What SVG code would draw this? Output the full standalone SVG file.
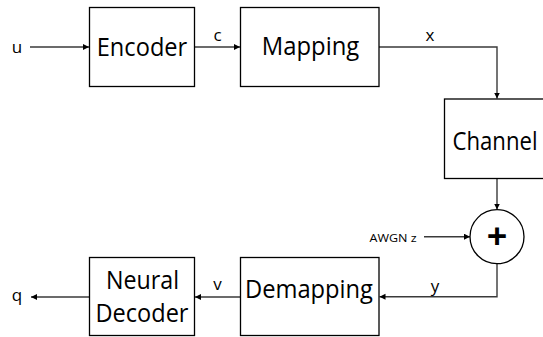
<svg xmlns="http://www.w3.org/2000/svg" width="543" height="337" viewBox="0 0 543 337">
<style>
.box{fill:#fff;stroke:#000;stroke-width:1.3}
.big{font-family:"Open Sans","Liberation Sans",sans-serif;font-size:25px;fill:#000;text-anchor:middle}
.lbl{font-family:"Open Sans","Liberation Sans",sans-serif;font-size:17px;fill:#000;text-anchor:middle}
.sm{font-family:"Open Sans","Liberation Sans",sans-serif;font-size:11.5px;fill:#000}
.conn path{fill:none;stroke:#3a3a3a;stroke-width:1.4}
</style>
<defs>
<marker id="ah" markerUnits="userSpaceOnUse" markerWidth="7" markerHeight="7" refX="6" refY="3" orient="auto">
<path d="M0,0 L6,3 L0,6 z" fill="#000"/>
</marker>
</defs>
<rect width="543" height="337" fill="#fff"/>
<g class="conn">
<path d="M30,47 H89" marker-end="url(#ah)"/>
<path d="M194.5,47 H240" marker-end="url(#ah)"/>
<path d="M379,47 H497 V98.5" marker-end="url(#ah)"/>
<path d="M497,178.5 V209.5" marker-end="url(#ah)"/>
<path d="M424,236.7 H470" marker-end="url(#ah)"/>
<path d="M497,263.7 V296.7 H379.5" marker-end="url(#ah)"/>
<path d="M240.5,297 H195" marker-end="url(#ah)"/>
<path d="M89.5,297 H31" marker-end="url(#ah)"/>
</g>
<g id="labels">
<text class="lbl" x="17" y="53">u</text>
<text class="lbl" x="217.5" y="40.5">c</text>
<text class="lbl" x="430" y="40.5">x</text>
<text class="lbl" x="435" y="292">y</text>
<text class="lbl" x="217.5" y="290">v</text>
<text class="lbl" x="17" y="301">q</text>
<text class="sm" x="369.5" y="241.5" textLength="47" lengthAdjust="spacingAndGlyphs">AWGN z</text>
</g>
<g id="encoder">
<rect class="box" x="89.5" y="7.5" width="105" height="79"/>
<text class="big" x="142" y="55.5" textLength="90.5" lengthAdjust="spacingAndGlyphs">Encoder</text>
</g>
<g id="mapping">
<rect class="box" x="240.5" y="7.5" width="138.5" height="79"/>
<text class="big" x="310.5" y="55" textLength="97.5" lengthAdjust="spacingAndGlyphs">Mapping</text>
</g>
<g id="channel">
<rect class="box" x="444.5" y="99" width="110" height="79.5"/>
<text class="big" x="495" y="150" textLength="85" lengthAdjust="spacingAndGlyphs">Channel</text>
</g>
<g id="adder">
<circle cx="497" cy="236.7" r="27" fill="#fff" stroke="#000" stroke-width="1.3"/>
<text x="497" y="249" font-family="Open Sans, Liberation Sans, sans-serif" font-size="36" font-weight="bold" text-anchor="middle">+</text>
</g>
<g id="demapping">
<rect class="box" x="240.5" y="257.5" width="138.5" height="78"/>
<text class="big" x="309" y="298" textLength="128" lengthAdjust="spacingAndGlyphs">Demapping</text>
</g>
<g id="neural-decoder">
<rect class="box" x="89.5" y="257.5" width="105" height="78"/>
<text class="big" x="142.5" y="289" textLength="73" lengthAdjust="spacingAndGlyphs">Neural</text>
<text class="big" x="142" y="321.5" textLength="93" lengthAdjust="spacingAndGlyphs">Decoder</text>
</g>
</svg>
